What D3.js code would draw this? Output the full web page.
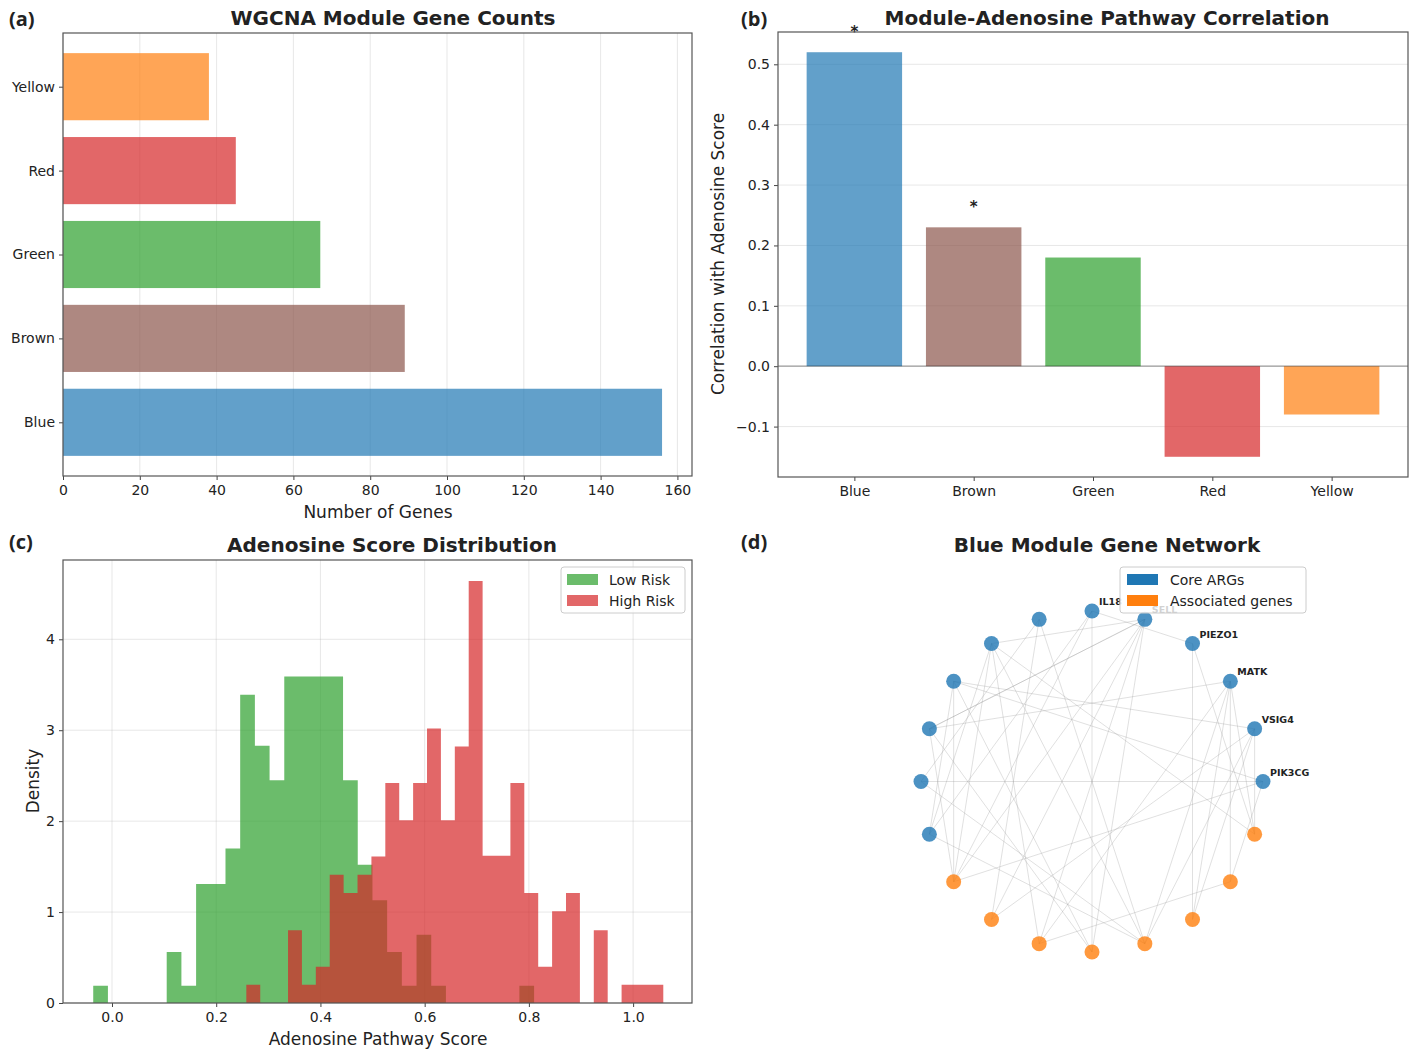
<!DOCTYPE html>
<html>
<head>
<meta charset="utf-8">
<script src="https://cdn.jsdelivr.net/npm/d3@7"></script>
<title>WGCNA modules</title>
<style>
  body { margin: 0; background: #fff; }
  text { font-family: "DejaVu Sans", sans-serif; fill: #222; }
</style>
</head>
<body>
<div id="chart"></div>
<script>
// (a) / (b) module data
var modules = ['Blue', 'Brown', 'Green', 'Red', 'Yellow'];
var geneCounts = [156, 89, 67, 45, 38];
var correlations = [0.52, 0.23, 0.18, -0.15, -0.08];
var signif = ['*', '*', '', '', ''];
var moduleColors = ['#1f77b4', '#8c564b', '#2ca02c', '#d62728', '#ff7f0e'];
var countTicks = [0, 20, 40, 60, 80, 100, 120, 140, 160];
var corrTicks = [-0.1, 0, 0.1, 0.2, 0.3, 0.4, 0.5];

// (c) histograms, 30 bins each (density)
var lowStart = -0.036, lowWidth = 0.0282;
var lowDensity = [0.19, 0, 0, 0, 0, 0.56, 0.19, 1.31, 1.31, 1.70,
                  3.39, 2.83, 2.45, 3.59, 3.59, 3.59, 3.59, 2.45, 1.52, 1.13,
                  0.56, 0.19, 0.75, 0.19, 0, 0, 0, 0, 0, 0.19];
var highStart = 0.2578, highWidth = 0.02667;
var highDensity = [0.20, 0, 0, 0.80, 0.20, 0.40, 1.41, 1.21, 1.41, 1.61,
                   2.42, 2.01, 2.42, 3.02, 2.01, 2.82, 4.64, 1.62, 1.62, 2.42,
                   1.21, 0.40, 1.01, 1.21, 0, 0.80, 0, 0.20, 0.20, 0.20];
var scoreTicks = [0, 0.2, 0.4, 0.6, 0.8, 1.0];
var densityTicks = [0, 1, 2, 3, 4];

// (d) network
var geneNames = ['PIK3CG', 'VSIG4', 'MATK', 'PIEZO1', 'SELL', 'IL18',
                 '', '', '', '', '', '', '', '', '', '', '', '', '', ''];
var geneGroup = ['core', 'core', 'core', 'core', 'core', 'core', 'core', 'core', 'core', 'core',
                 'core', 'core', 'assoc', 'assoc', 'assoc', 'assoc', 'assoc', 'assoc', 'assoc', 'assoc'];
var edges = [[10, 0], [5, 15], [3, 17], [8, 1], [9, 2], [8, 0], [12, 0], [12, 4], [12, 7], [12, 9],
             [12, 8], [11, 7], [11, 16], [9, 4], [7, 4], [4, 13], [4, 15], [5, 3], [3, 19], [2, 17],
             [2, 16], [2, 14], [1, 17], [1, 16], [19, 7], [18, 14], [6, 13], [6, 16], [5, 11], [5, 12],
             [7, 16], [10, 16], [11, 8], [14, 4], [18, 2], [19, 1], [0, 18], [6, 10], [13, 1], [15, 9],
             [8, 15], [4, 9], [7, 14], [2, 19]];

var svg = d3.select('#chart').append('svg')
    .attr('width', 1412)
    .attr('height', 1053);
svg.append('rect').attr('width', 1412).attr('height', 1053).attr('fill', '#fff');

function styleAxis(axis) {
    axis.select('.domain').remove();
    axis.selectAll('line').attr('stroke', '#444');
    axis.selectAll('text').style('font-size', '14px').attr('fill', '#333');
}

function frame(x0, x1, y0, y1) {
    svg.append('rect')
        .attr('x', x0).attr('y', y0)
        .attr('width', x1 - x0).attr('height', y1 - y0)
        .attr('fill', 'none').attr('stroke', '#555').attr('stroke-width', 1.2);
}

function title(txt, cx, y) {
    svg.append('text').attr('x', cx).attr('y', y)
        .attr('text-anchor', 'middle')
        .style('font-size', '20px').style('font-weight', 'bold')
        .attr('fill', '#111')
        .text(txt);
}

function axisLabel(txt, x, y, rotate) {
    svg.append('text')
        .attr('transform', 'translate(' + x + ',' + y + ')' + (rotate ? ' rotate(-90)' : ''))
        .attr('text-anchor', 'middle')
        .style('font-size', '17px')
        .attr('fill', '#333')
        .text(txt);
}

function panelTag(txt, x, y) {
    svg.append('text').attr('x', x).attr('y', y)
        .style('font-family', '"Open Sans", sans-serif')
        .style('font-size', '20px').style('font-weight', 'bold')
        .attr('fill', '#000')
        .text(txt);
}

// ---------- (a) gene counts ----------
var ax = d3.scaleLinear().domain([0, 163.8]).range([63, 692]);
var ay = d3.scaleLinear().domain([-0.64, 4.64]).range([476, 33]);

svg.append('g').selectAll('line').data(countTicks).join('line')
    .attr('x1', d => ax(d)).attr('x2', d => ax(d))
    .attr('y1', 33).attr('y2', 476)
    .attr('stroke', '#b0b0b0').attr('stroke-opacity', 0.3);

svg.append('g').selectAll('rect').data(modules).join('rect')
    .attr('x', ax(0))
    .attr('y', (d, i) => ay(i + 0.4))
    .attr('width', (d, i) => ax(geneCounts[i]) - ax(0))
    .attr('height', (d, i) => ay(i - 0.4) - ay(i + 0.4))
    .attr('fill', (d, i) => moduleColors[i])
    .attr('fill-opacity', 0.7);

styleAxis(svg.append('g').attr('transform', 'translate(0,476)')
    .call(d3.axisBottom(ax).tickValues(countTicks).tickSize(4).tickPadding(5)));
styleAxis(svg.append('g').attr('transform', 'translate(63,0)')
    .call(d3.axisLeft(ay).tickValues(d3.range(modules.length)).tickFormat(i => modules[i]).tickSize(4).tickPadding(4)));
frame(63, 692, 33, 476);
title('WGCNA Module Gene Counts', 393, 25);
axisLabel('Number of Genes', 378, 518, false);
panelTag('(a)', 9, 26);

// ---------- (b) correlation ----------
var bx = d3.scaleLinear().domain([-0.64, 4.64]).range([778, 1408]);
var by = d3.scaleLinear().domain([-0.1835, 0.5535]).range([477, 32]);

svg.append('g').selectAll('line').data(corrTicks).join('line')
    .attr('x1', 778).attr('x2', 1408)
    .attr('y1', d => by(d)).attr('y2', d => by(d))
    .attr('stroke', '#b0b0b0').attr('stroke-opacity', 0.3);

svg.append('g').selectAll('rect').data(modules).join('rect')
    .attr('x', (d, i) => bx(i - 0.4))
    .attr('y', (d, i) => by(Math.max(0, correlations[i])))
    .attr('width', bx(0.4) - bx(-0.4))
    .attr('height', (d, i) => Math.abs(by(correlations[i]) - by(0)))
    .attr('fill', (d, i) => moduleColors[i])
    .attr('fill-opacity', 0.7);

svg.append('line')
    .attr('x1', 778).attr('x2', 1408)
    .attr('y1', by(0)).attr('y2', by(0))
    .attr('stroke', '#000').attr('stroke-opacity', 0.35).attr('stroke-width', 1.2);

svg.append('g').selectAll('text').data(modules).join('text')
    .attr('x', (d, i) => bx(i))
    .attr('y', (d, i) => by(correlations[i] + 0.025))
    .attr('text-anchor', 'middle')
    .style('font-size', '15px').style('font-weight', 'bold')
    .attr('fill', '#000')
    .text((d, i) => signif[i]);

styleAxis(svg.append('g').attr('transform', 'translate(0,477)')
    .call(d3.axisBottom(bx).tickValues(d3.range(modules.length)).tickFormat(i => modules[i]).tickSize(4).tickPadding(5)));
styleAxis(svg.append('g').attr('transform', 'translate(778,0)')
    .call(d3.axisLeft(by).tickValues(corrTicks).tickFormat(d3.format('.1f')).tickSize(4).tickPadding(4)));
frame(778, 1408, 32, 477);
title('Module-Adenosine Pathway Correlation', 1107, 25);
axisLabel('Correlation with Adenosine Score', 724, 254, true);
panelTag('(b)', 741, 26);

// ---------- (c) histogram ----------
var cx = d3.scaleLinear().domain([-0.094, 1.113]).range([63, 692]);
var cy = d3.scaleLinear().domain([0, 4.872]).range([1003, 560]);

svg.append('g').selectAll('line').data(scoreTicks).join('line')
    .attr('x1', d => cx(d)).attr('x2', d => cx(d))
    .attr('y1', 560).attr('y2', 1003)
    .attr('stroke', '#b0b0b0').attr('stroke-opacity', 0.3);
svg.append('g').selectAll('line').data(densityTicks).join('line')
    .attr('x1', 63).attr('x2', 692)
    .attr('y1', d => cy(d)).attr('y2', d => cy(d))
    .attr('stroke', '#b0b0b0').attr('stroke-opacity', 0.3);

// one stepped area per group, so neighbouring bins leave no seams
function histogram(dens, start, width, color) {
    var steps = dens.map((d, i) => [start + i * width, d]);
    steps.push([start + dens.length * width, 0]);
    var area = d3.area()
        .curve(d3.curveStepAfter)
        .x(d => cx(d[0]))
        .y0(cy(0))
        .y1(d => cy(d[1]));
    svg.append('path')
        .datum(steps)
        .attr('d', area)
        .attr('fill', color)
        .attr('fill-opacity', 0.7);
}
histogram(lowDensity, lowStart, lowWidth, '#2ca02c');
histogram(highDensity, highStart, highWidth, '#d62728');

styleAxis(svg.append('g').attr('transform', 'translate(0,1003)')
    .call(d3.axisBottom(cx).tickValues(scoreTicks).tickFormat(d3.format('.1f')).tickSize(4).tickPadding(5)));
styleAxis(svg.append('g').attr('transform', 'translate(63,0)')
    .call(d3.axisLeft(cy).tickValues(densityTicks).tickFormat(d3.format('d')).tickSize(4).tickPadding(4)));
frame(63, 692, 560, 1003);
title('Adenosine Score Distribution', 392, 552);
axisLabel('Adenosine Pathway Score', 378, 1045, false);
axisLabel('Density', 39, 781, true);
panelTag('(c)', 9, 549);

var histLegend = [['Low Risk', '#2ca02c'], ['High Risk', '#d62728']];
var lg = svg.append('g').attr('transform', 'translate(561,567)');
lg.append('rect').attr('width', 124).attr('height', 46).attr('rx', 3)
    .attr('fill', '#fff').attr('fill-opacity', 0.8).attr('stroke', '#ccc');
lg.selectAll('rect.p').data(histLegend).join('rect').attr('class', 'p')
    .attr('x', 6).attr('y', (d, i) => 7 + i * 21)
    .attr('width', 31).attr('height', 11)
    .attr('fill', d => d[1]).attr('fill-opacity', 0.7);
lg.selectAll('text').data(histLegend).join('text')
    .attr('x', 48).attr('y', (d, i) => 18 + i * 21)
    .style('font-size', '14px').text(d => d[0]);

// ---------- (d) network ----------
var nx = d3.scaleLinear().domain([-1, 1]).range([921, 1263]);
var ny = d3.scaleLinear().domain([-1, 1]).range([952, 611]);
var nodes = geneNames.map(function (name, i) {
    var a = 2 * Math.PI * i / geneNames.length;
    return { name: name, group: geneGroup[i], x: nx(Math.cos(a)), y: ny(Math.sin(a)) };
});
var groupColor = { core: '#1f77b4', assoc: '#ff7f0e' };

svg.append('g').selectAll('line').data(edges).join('line')
    .attr('x1', d => nodes[d[0]].x).attr('y1', d => nodes[d[0]].y)
    .attr('x2', d => nodes[d[1]].x).attr('y2', d => nodes[d[1]].y)
    .attr('stroke', '#999').attr('stroke-opacity', 0.3).attr('stroke-width', 1);

svg.append('g').selectAll('circle').data(nodes).join('circle')
    .attr('cx', d => d.x).attr('cy', d => d.y).attr('r', 7.5)
    .attr('fill', d => groupColor[d.group]).attr('fill-opacity', 0.8);

svg.append('g').selectAll('text').data(nodes.filter(d => d.name)).join('text')
    .attr('x', d => d.x + 7).attr('y', d => d.y - 6)
    .style('font-size', '9.5px').style('font-weight', 'bold')
    .attr('fill', '#000')
    .text(d => d.name);

title('Blue Module Gene Network', 1107, 552);
panelTag('(d)', 741, 549);

var netLegend = [['Core ARGs', '#1f77b4'], ['Associated genes', '#ff7f0e']];
var ng = svg.append('g').attr('transform', 'translate(1120,567)');
ng.append('rect').attr('width', 186).attr('height', 46).attr('rx', 3)
    .attr('fill', '#fff').attr('fill-opacity', 0.8).attr('stroke', '#ccc');
ng.selectAll('rect.p').data(netLegend).join('rect').attr('class', 'p')
    .attr('x', 7).attr('y', (d, i) => 7 + i * 21)
    .attr('width', 31).attr('height', 11)
    .attr('fill', d => d[1]);
ng.selectAll('text').data(netLegend).join('text')
    .attr('x', 50).attr('y', (d, i) => 18 + i * 21)
    .style('font-size', '14px').text(d => d[0]);
</script>
</body>
</html>
